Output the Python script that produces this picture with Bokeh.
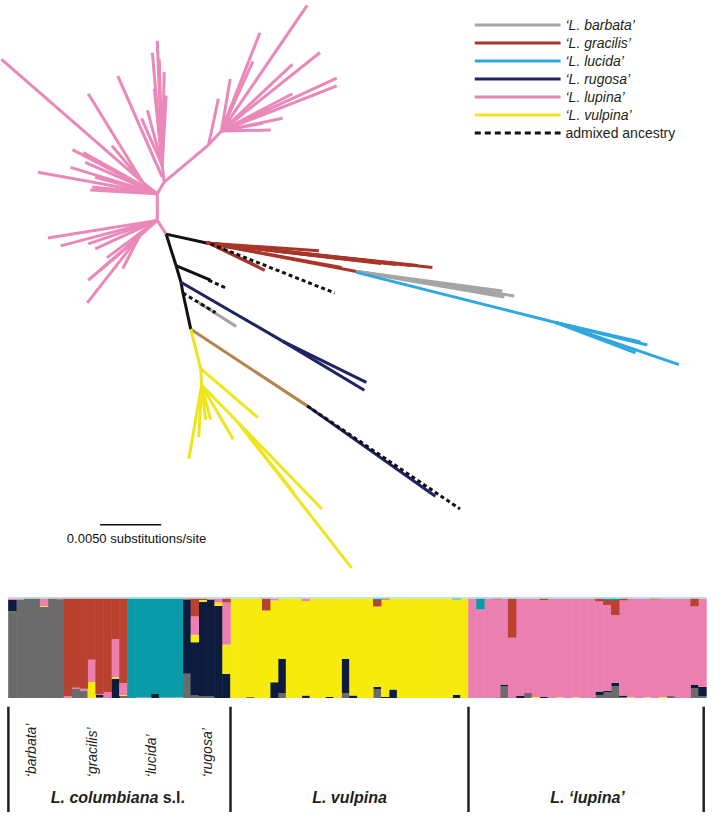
import numpy as np
from bokeh.plotting import figure
from bokeh.layouts import column
from bokeh.models import Range1d, ColumnDataSource
from bokeh.core.properties import value
from bokeh.embed import file_html
from bokeh.resources import INLINE

FONT = "Liberation Sans"

# ---------------- Tree (node coordinates of the unrooted layout) ----------------
pink_branches = [
    (172, 238, 163, 224), (163, 224, 163, 197), (163, 197, 170, 185),
    (170, 185, 215, 147), (215, 147, 228, 133), (215, 147, 225, 100),
    (228, 133, 315, 5), (228, 133, 267, 33), (228, 133, 260, 62), (228, 133, 237, 80),
    (228, 133, 328, 53), (228, 133, 345, 79), (228, 133, 345, 87), (228, 133, 300, 65),
    (228, 133, 300, 95), (228, 133, 278, 132), (228, 133, 270, 125), (228, 133, 290, 120),
    (170, 185, 168, 168), (168, 168, 163, 41), (168, 168, 158, 53), (168, 168, 170, 73),
    (168, 168, 172, 97), (168, 168, 153, 112), (168, 168, 147, 120), (168, 180, 123, 77),
    (168, 168, 165, 60), (168, 168, 160, 90),
    (163, 197, 148, 185), (148, 185, 5, 60), (148, 185, 93, 95), (148, 185, 117, 148),
    (163, 197, 77, 152), (163, 197, 88, 155), (163, 197, 42, 175), (163, 197, 75, 170),
    (163, 197, 95, 193), (163, 197, 97, 190), (163, 197, 90, 165), (163, 197, 100, 180),
    (163, 224, 52, 242), (163, 224, 65, 250), (163, 224, 93, 248), (163, 224, 100, 253),
    (163, 224, 112, 262), (163, 224, 145, 240), (145, 240, 117, 265), (145, 240, 128, 273),
    (145, 240, 93, 285), (145, 240, 92, 308), (145, 240, 105, 275),
]
black_branches = [
    (172, 238, 213, 247), (172, 238, 182, 270), (182, 270, 187, 287),
    (187, 287, 189, 298), (189, 298, 197, 335), (182, 270, 217, 285),
]
red_branches = [
    (213, 247, 327, 255), (213, 247, 367, 265), (213, 247, 380, 266), (213, 247, 390, 268),
    (213, 247, 405, 269), (213, 247, 420, 270), (213, 247, 427, 270), (213, 247, 442, 272),
    (213, 247, 365, 276), (213, 247, 350, 272), (217, 248, 272, 275), (217, 248, 265, 271),
]
gray_branches = [
    (365, 276, 513, 296), (365, 276, 525, 301), (365, 276, 515, 302), (365, 276, 505, 297),
    (205, 308, 243, 332),
]
blue_branches = [
    (365, 277, 567, 328), (567, 328, 660, 351), (567, 328, 653, 348),
    (567, 328, 692, 371), (567, 328, 648, 359), (567, 328, 607, 343),
]
navy_branches = [
    (187, 287, 290, 347), (290, 347, 375, 389), (290, 347, 373, 397), (315, 413, 445, 505),
]
brown_branches = [(197, 335, 315, 413)]
yellow_branches = [
    (197, 335, 207, 375), (207, 375, 265, 425), (207, 375, 208, 392),
    (208, 392, 195, 467), (208, 392, 205, 445), (208, 392, 212, 427), (208, 392, 217, 427),
    (208, 392, 240, 447), (208, 392, 245, 430), (245, 430, 330, 518), (245, 430, 302, 502),
    (245, 430, 360, 578),
]
admixed_branches = [
    (217, 248, 343, 298), (215, 285, 233, 293), (189, 298, 222, 318), (315, 413, 470, 518),
]

scale_bar_label = "0.0050 substitutions/site"
scale_bar_len = 62          # layout units equal to 0.0050 substitutions/site
scale_bar_x0, scale_bar_y = 105, 534

legend_labels = ["‘L. barbata’", "‘L. gracilis’", "‘L. lucida’", "‘L. rugosa’",
                 "‘L. lupina’", "‘L. vulpina’", " admixed ancestry"]
legend_colors = ["#a7a7a7", "#a9352a", "#2ea8df", "#1d2364", "#e586b5", "#f3e31b", "#111111"]

# ---------------- STRUCTURE admixture proportions ----------------
pop_names = ["barbata", "gracilis", "lucida", "rugosa", "vulpina", "lupina"]
pop_sizes = [7, 8, 7, 6, 30, 30]
pop_main = ["gray", "red", "teal", "navy", "yellow", "pink"]
clusters = ["gray", "navy", "yellow", "pink", "red", "teal", "other"]
cluster_colors = ["#6b6b6b", "#0d1b3e", "#f6eb0c", "#ea7fb0", "#b8412f", "#0b9aa8", "#a7d8de"]
other_share = 0.012

barbata_q = {
    "navy":   [0.11, 0, 0, 0, 0, 0, 0],
    "yellow": [0, 0, 0, 0, 0.01, 0, 0],
    "pink":   [0.016, 0.01, 0, 0, 0.075, 0, 0],
    "red":    [0, 0, 0, 0, 0, 0, 0.01],
}
gracilis_q = {
    "gray":   [0, 0.09, 0.075, 0, 0.01, 0, 0, 0.02],
    "navy":   [0, 0, 0, 0, 0.02, 0, 0.19, 0],
    "yellow": [0, 0, 0, 0.16, 0, 0, 0.016, 0.01],
    "pink":   [0.02, 0.013, 0.016, 0.22, 0.01, 0.06, 0.38, 0.12],
}
lucida_q = {
    "navy":   [0, 0, 0, 0.04, 0, 0, 0],
    "pink":   [0, 0.005, 0.005, 0, 0.005, 0.005, 0],
    "yellow": [0, 0, 0, 0, 0, 0, 0.005],
}
rugosa_q = {
    "gray":   [0.24, 0.025, 0.02, 0.015, 0, 0],
    "yellow": [0, 0.075, 0.016, 0, 0.035, 0.29],
    "pink":   [0, 0.18, 0, 0.01, 0.04, 0.42],
    "red":    [0.01, 0.18, 0.016, 0, 0, 0.04],
}
vulpina_q = {
    "gray": [0, 0, 0.01, 0, 0, 0, 0.05, 0, 0, 0, 0, 0, 0, 0, 0.05,
             0, 0, 0, 0.09, 0, 0, 0, 0, 0, 0, 0, 0, 0, 0, 0],
    "navy": [0, 0, 0, 0, 0, 0.156, 0.34, 0, 0, 0.025, 0, 0, 0.01, 0, 0.34,
             0.025, 0, 0, 0.02, 0.01, 0.085, 0, 0, 0, 0, 0, 0, 0, 0.03, 0],
    "pink": [0, 0, 0, 0, 0, 0.02, 0, 0, 0, 0.026, 0, 0, 0, 0, 0,
             0, 0, 0, 0, 0, 0, 0, 0, 0, 0, 0, 0, 0, 0, 0],
    "red":  [0, 0, 0, 0, 0.12, 0, 0, 0, 0, 0, 0, 0, 0, 0, 0,
             0, 0, 0, 0.065, 0.01, 0, 0, 0, 0, 0, 0, 0, 0, 0, 0],
    "teal": [0, 0, 0, 0, 0, 0, 0, 0, 0, 0, 0, 0, 0, 0, 0,
             0, 0, 0, 0.015, 0, 0, 0, 0, 0, 0, 0, 0, 0, 0.01, 0],
}
lupina_q = {
    "gray":   [0, 0, 0, 0, 0.12, 0, 0, 0.04, 0, 0, 0, 0, 0, 0, 0,
               0, 0.03, 0.06, 0.12, 0.01, 0, 0, 0, 0, 0, 0.02, 0, 0, 0.1, 0.02],
    "navy":   [0, 0, 0, 0, 0.013, 0, 0.02, 0.008, 0, 0.01, 0, 0, 0, 0, 0,
               0, 0.035, 0.01, 0.03, 0.015, 0, 0, 0, 0, 0, 0, 0, 0, 0.03, 0.09],
    "yellow": [0, 0, 0, 0, 0, 0, 0, 0, 0.01, 0, 0, 0.008, 0, 0.008, 0,
               0, 0, 0, 0, 0, 0.008, 0, 0.008, 0, 0.01, 0, 0, 0, 0, 0],
    "red":    [0, 0, 0, 0.01, 0, 0.39, 0, 0, 0, 0.015, 0, 0, 0, 0, 0,
               0, 0.03, 0.05, 0.15, 0.02, 0, 0, 0, 0.01, 0, 0, 0, 0, 0.08, 0],
    "teal":   [0, 0.11, 0, 0, 0, 0, 0, 0, 0, 0, 0, 0, 0, 0, 0,
               0, 0, 0.015, 0.015, 0, 0, 0, 0, 0, 0, 0, 0, 0, 0, 0],
}
pop_q = [barbata_q, gracilis_q, lucida_q, rugosa_q, vulpina_q, lupina_q]

sub_labels = ["‘barbata’", "‘gracilis’", "‘lucida’", "‘rugosa’"]
sub_label_x = [2.9, 10.6, 18.0, 25.0]
group_labels = ["L. vulpina", "L. ‘lupina’"]
group_label_x = [43, 73]
divider_x = [0, 28, 58, 87.65]

# ================= Tree figure =================
pt = figure(width=707, height=585, x_range=Range1d(4, 721), y_range=Range1d(596, 0),
            toolbar_location=None, output_backend="svg", min_border=0,
            x_axis_location=None, y_axis_location=None, outline_line_color=None)
pt.grid.visible = False


def draw(p, branches, color, width=3.0, dash="solid"):
    x0, y0, x1, y1 = (list(v) for v in zip(*branches))
    p.segment(x0=x0, y0=y0, x1=x1, y1=y1, line_color=color, line_width=width,
              line_dash=dash, line_cap="butt")


draw(pt, pink_branches, "#ea88b9")
draw(pt, black_branches, "#111111")
draw(pt, red_branches, "#a9352a")
draw(pt, gray_branches, "#a5a5a5")
draw(pt, blue_branches, "#2ea8df")
draw(pt, navy_branches, "#1d2364")
draw(pt, brown_branches, "#b5834d")
draw(pt, yellow_branches, "#efe51c")
draw(pt, admixed_branches, "#111111", width=3.0, dash="4 3")

# scale bar
pt.segment(x0=[scale_bar_x0], y0=[scale_bar_y], x1=[scale_bar_x0 + scale_bar_len], y1=[scale_bar_y],
           line_color="#111111", line_width=1.5)
pt.text(x=[scale_bar_x0 + scale_bar_len / 2 + 6], y=[scale_bar_y + 14], text=[scale_bar_label],
        text_align="center", text_baseline="middle", text_font=value(FONT),
        text_font_size="13px", text_color="#111111")

# legend
n_leg = len(legend_labels)
leg_y = [25 + 18.33 * i for i in range(n_leg)]
for i in range(n_leg):
    pt.segment(x0=[485], y0=[leg_y[i]], x1=[572], y1=[leg_y[i]], line_color=legend_colors[i],
               line_width=3, line_dash=("6 4" if i == n_leg - 1 else "solid"))
    pt.text(x=[577], y=[leg_y[i]], text=[legend_labels[i]], text_align="left",
            text_baseline="middle", text_font=value(FONT), text_font_size="14px",
            text_font_style=("normal" if i == n_leg - 1 else "italic"), text_color="#231f20")

# ================= STRUCTURE figure =================
data = {c: [] for c in clusters}
for q, n, main in zip(pop_q, pop_sizes, pop_main):
    cols = {}
    for c in clusters:
        if c == "other":
            cols[c] = [other_share] * n
        elif c != main:
            cols[c] = q.get(c, [0] * n)
    minor_sum = np.sum([cols[c] for c in cols], axis=0)
    cols[main] = list(1 - minor_sum)
    for c in clusters:
        data[c].extend(cols[c])
n_ind = sum(pop_sizes)
data["x"] = [i + 0.5 for i in range(n_ind)]
src = ColumnDataSource(data)

ps = figure(width=707, height=227, x_range=Range1d(-0.994, 88.13), y_range=Range1d(-1.136, 1.1165),
            toolbar_location=None, output_backend="svg", min_border=0,
            x_axis_location=None, y_axis_location=None, outline_line_color=None)
ps.grid.visible = False
ps.vbar_stack(clusters, x="x", width=1.06, color=cluster_colors, line_alpha=0,
              line_width=0, source=src)

ps.segment(x0=divider_x, y0=[-0.087] * 4, x1=divider_x, y1=[-1.136] * 4,
           line_color="#231f20", line_width=2.5)
ps.text(x=sub_label_x, y=[-0.786] * 4, text=sub_labels, angle=np.pi / 2,
        text_align="left", text_baseline="middle", text_font=value(FONT),
        text_font_size="14px", text_font_style="italic", text_color="#231f20")
ps.text(x=[18.9], y=[-0.99], text=["L. columbiana"], text_align="right", text_baseline="middle",
        text_font=value(FONT), text_font_size="16px", text_font_style="bold italic",
        text_color="#231f20")
ps.text(x=[19.45], y=[-0.99], text=["s.l."], text_align="left", text_baseline="middle",
        text_font=value(FONT), text_font_size="16px", text_font_style="bold",
        text_color="#231f20")
ps.text(x=group_label_x, y=[-0.99] * 2, text=group_labels, text_align="center",
        text_baseline="middle", text_font=value(FONT), text_font_size="16px",
        text_font_style="bold italic", text_color="#231f20")

layout = column(pt, ps, spacing=0)
open("out.html", "w").write(file_html(layout, INLINE))
